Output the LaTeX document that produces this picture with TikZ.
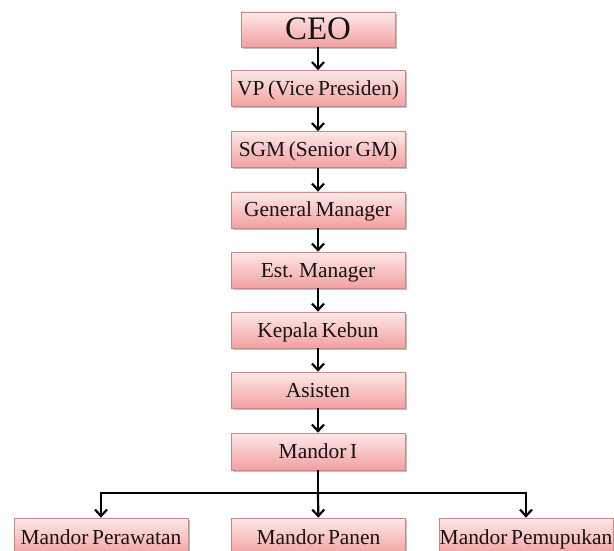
\documentclass[tikz,border=0pt]{standalone}
\usepackage{fontspec}
\setmainfont{Liberation Serif}
\usetikzlibrary{arrows.meta,shadows}
\definecolor{boxtop}{HTML}{FEE8E8}
\definecolor{boxbot}{HTML}{F3A0A0}
\definecolor{boxline}{HTML}{C48A8A}
\definecolor{ink}{HTML}{141414}
\newcommand{\tightwords}{\spaceskip=0.17em\relax}
\tikzset{
  unit/.style={draw=boxline, line width=0.7bp, top color=boxtop, bottom color=boxbot,
    minimum width=174bp, minimum height=36bp, inner sep=0pt, text=ink,
    text height=15.5bp, text depth=1.5bp,
    font=\fontsize{21.5}{23}\selectfont,
    execute at begin node=\tightwords,
    drop shadow={shadow xshift=1.5bp, shadow yshift=-1.8bp, fill=black, opacity=0.25}},
  conn/.style={draw=black, line width=2.2bp},
  tip/.style={conn, -{Straight Barb[length=6.5bp, width=12bp]}}
}
\begin{document}
\begin{tikzpicture}[x=1bp, y=-1bp]
  \useasboundingbox (0,0) rectangle (614,551);
  \fill[white] (0,0) rectangle (614,551);
  \clip (0,0) rectangle (614,551);

  % chain of command
  \node[unit, minimum width=154bp, minimum height=35bp,
        text height=23bp, text depth=2bp,
        font=\fontsize{33}{35}\selectfont] (ceo) at (318,29.5) {CEO};
  \node[unit] (vp)  at (318,88.5)  {VP (Vice Presiden)};
  \node[unit] (sgm) at (318,149.5) {SGM (Senior GM)};
  \node[unit] (gm)  at (318,210)   {General Manager};
  \node[unit] (em)  at (318,270)   {Est. Manager};
  \node[unit] (kk)  at (318,330)   {Kepala Kebun};
  \node[unit] (as)  at (318,390)   {Asisten};
  \node[unit, minimum height=37bp] (m1) at (318,451.5) {Mandor I};

  % field foremen
  \node[unit, minimum height=38bp] (mpr) at (101,537)   {Mandor Perawatan};
  \node[unit, minimum height=38bp] (mpn) at (318.5,537) {Mandor Panen};
  \node[unit, minimum height=38bp] (mpu) at (526,537)   {Mandor Pemupukan};

  % connectors
  \draw[tip] (ceo) -- (vp);
  \draw[tip] (vp)  -- (sgm);
  \draw[tip] (sgm) -- (gm);
  \draw[tip] (gm)  -- (em);
  \draw[tip] (em)  -- (kk);
  \draw[tip] (kk)  -- (as);
  \draw[tip] (as)  -- (m1);

  \coordinate (bus) at (318,493);
  \draw[conn] (m1) -- (bus);
  \draw[tip] (bus) -| (mpr);
  \draw[tip] (bus) -- (mpn);
  \draw[tip] (bus) -| (mpu);
\end{tikzpicture}
\end{document}
